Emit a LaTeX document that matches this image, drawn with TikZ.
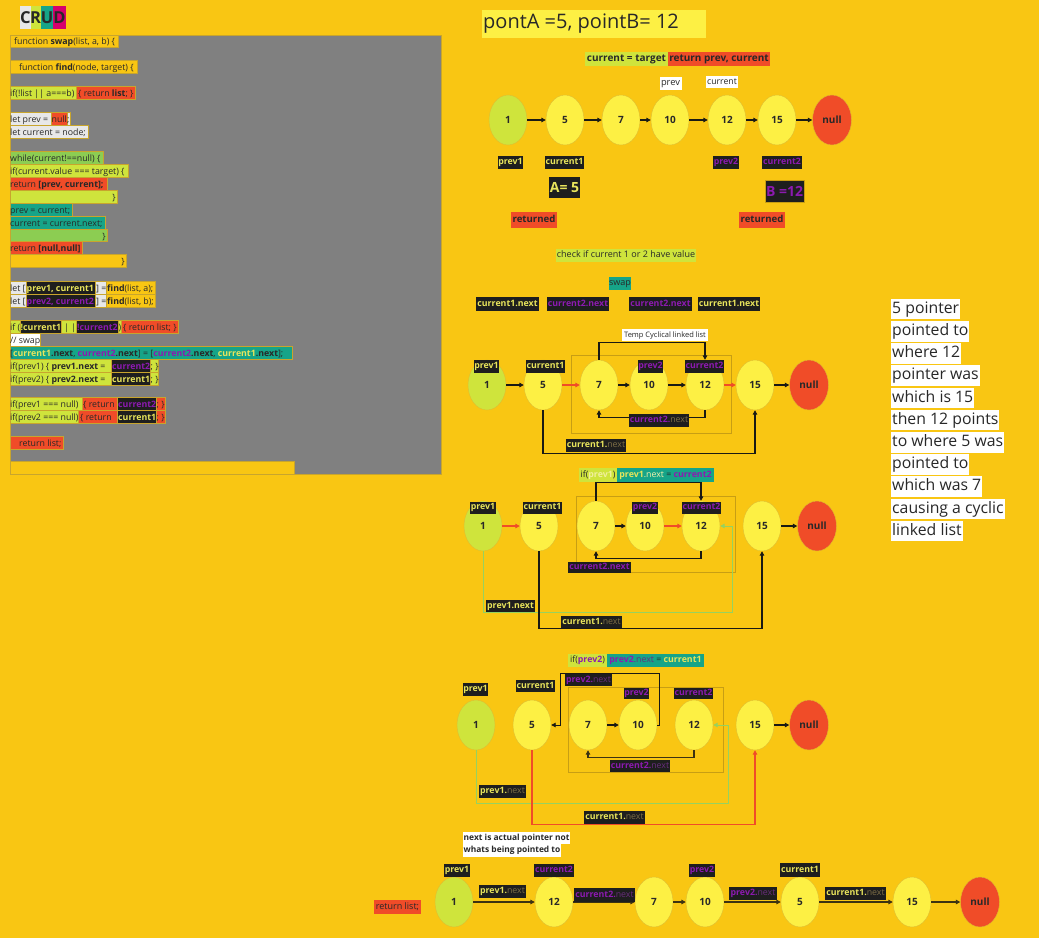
\documentclass[tikz,border=0pt]{standalone}
\usepackage{fontspec}
\setmainfont{Open Sans}
\usetikzlibrary{shapes.geometric,arrows.meta,calc}
\definecolor{bg}{RGB}{249,198,19}
\definecolor{nodey}{RGB}{253,240,68}
\definecolor{nodeline}{RGB}{222,190,50}
\definecolor{limec}{RGB}{207,228,60}
\definecolor{redc}{RGB}{240,76,40}
\definecolor{tealc}{RGB}{22,164,136}
\definecolor{greenc}{RGB}{140,205,82}
\definecolor{lblack}{RGB}{30,30,30}
\definecolor{lyel}{RGB}{232,228,92}
\definecolor{purp}{RGB}{140,26,176}
\definecolor{dimc}{RGB}{125,110,70}
\definecolor{dimp}{RGB}{105,45,125}
\definecolor{panel}{RGB}{128,128,128}
\definecolor{lgray}{RGB}{232,232,232}
\definecolor{magc}{RGB}{214,0,108}
\definecolor{rectc}{RGB}{200,158,20}
\definecolor{gpath}{RGB}{150,210,95}
\definecolor{ink}{RGB}{40,40,40}
\definecolor{segline}{RGB}{200,165,45}
\definecolor{arrowc}{RGB}{25,25,20}
\definecolor{botarr}{RGB}{60,50,18}
\newcommand\myfs[1]{\fontsize{#1}{#1}\selectfont}
\begin{document}
\begin{tikzpicture}[x=1pt,y=-1pt,
  cf/.style={fill=#1, draw=segline, line width=0.3pt},
  ct/.style={anchor=base west, inner sep=0pt, font=\myfs{8.8}, text=ink},
  ctb/.style={ct, font=\myfs{8.8}\bfseries},
  cte/.style={ct, anchor=base east},
  ll/.style={ellipse, minimum width=38pt, minimum height=50pt, inner sep=0pt, draw=nodeline, line width=0.4pt, fill=nodey, font=\myfs{10}\bfseries, text=ink},
  ll1/.style={ll, fill=limec},
  lln/.style={ll, fill=redc, minimum width=39pt},
  lb/.style={fill=lblack, text=lyel, inner sep=0pt, minimum height=13pt, text height=6.6pt, text depth=1.8pt, font=\myfs{8.8}\bfseries},
  lbp/.style={lb, text=purp},
  ar/.style={draw=arrowc, line width=1.1pt, -{Triangle[length=4.5pt,width=4.5pt]}},
  arr/.style={ar, draw=redc},
  arg/.style={ar, draw=gpath, line width=1pt},
  arb/.style={ar, draw=botarr, line width=1.5pt},
  rc/.style={draw=rectc, line width=0.8pt},
  rt/.style={anchor=west, fill=white, inner xsep=1pt, inner ysep=0pt, text height=14.5pt, text depth=6.2pt, font=\myfs{15.8}, text=ink}
]
\fill[bg] (0,0) rectangle (1039,938);
\useasboundingbox (0,0) rectangle (1039,938);

% ---------- CRUD ----------
\fill[lgray] (20,6) rectangle (30.6,29);
\fill[limec] (30.6,6) rectangle (40.7,29);
\fill[tealc] (40.7,6) rectangle (53.3,29);
\fill[magc] (53.3,6) rectangle (65.7,29);
\node[font=\myfs{16.5}\bfseries, text=ink, inner sep=0pt] (cC) at (25.5,17.5) {C};
\node[font=\myfs{16.5}\bfseries, text=ink, inner sep=0pt] (cR) at (35.6,17.5) {R};
\node[font=\myfs{16.5}\bfseries, text=ink, inner sep=0pt] (cU) at (47,17.5) {U};
\node[font=\myfs{16.5}\bfseries, text=ink, inner sep=0pt] (cD) at (59.5,17.5) {D};

% ---------- code panel ----------
\path[fill=panel, draw=segline, line width=0.8pt] (10,35) rectangle (441,474);

\path[cf=bg] (10,35) rectangle (118,47);
\node[ct] (k1) at (14,44) {function \textbf{swap}(list, a, b) \{};
\path[cf=bg] (10,60) rectangle (137,73);
\node[ct] (k2) at (19,70) {function \textbf{find}(node, target) \{};

\path[cf=limec] (10,86) rectangle (76,99);
\path[cf=redc] (76,86) rectangle (135,99);
\node[ct] (k3a) at (10,96) {if(!list || a===b)};
\node[ct] (k3b) at (78,96) {\{ return \textbf{list}; \}};

\path[cf=lgray] (10,112) rectangle (51,125);
\path[cf=redc] (51,112) rectangle (67,125);
\path[cf=lgray] (67,112) rectangle (70,125);
\node[ct] (k4a) at (10,122) {let prev =};
\node[ct] (k4b) at (51.5,122) {null};
\node[ct] (k4c) at (67,122) {;};
\path[cf=lgray] (10,125) rectangle (88,138);
\node[ct] (k5) at (10,135) {let current = node;};

\path[cf=greenc] (10,151) rectangle (103,164);
\node[ct] (k6) at (10,161) {while(current!==null) \{};
\path[cf=limec] (10,164) rectangle (128,177);
\node[ct] (k7) at (10,174) {if(current.value === target) \{};
\path[cf=redc] (10,177) rectangle (107,190);
\node[ct] (k8) at (10,187) {return \textbf{[prev, current];}};
\path[cf=limec] (10,190) rectangle (117,203);
\node[cte] (k9) at (116,200) {\}};
\path[cf=tealc] (10,203) rectangle (72,216);
\node[ct] (k10) at (10,213) {prev = current;};
\path[cf=tealc] (10,216) rectangle (105,229);
\node[ct] (k11) at (10,226) {current = current.next;};
\path[cf=greenc] (10,229) rectangle (107,241);
\node[cte] (k12) at (106,239) {\}};
\path[cf=redc] (10,241) rectangle (82,254);
\node[ct] (k13) at (10,251) {return \textbf{[null,null]}};
\path[cf=bg] (10,254) rectangle (126,267);
\node[cte] (k14) at (125,264) {\}};

\path[cf=lgray] (10,281) rectangle (26,294);
\path[cf=lblack] (26,281) rectangle (95,294);
\path[cf=lgray] (95,281) rectangle (106,294);
\path[cf=bg] (106,281) rectangle (155,294);
\node[ct] (k15a) at (10,291) {let [};
\node[ctb, text=lyel] (k15b) at (26.5,291) {prev1, current1};
\node[ct] (k15c) at (96,291) {] =};
\node[ct] (k15d) at (107,291) {\textbf{find}(list, a);};
\path[cf=lgray] (10,294) rectangle (26,307);
\path[cf=lblack] (26,294) rectangle (95,307);
\path[cf=lgray] (95,294) rectangle (106,307);
\path[cf=bg] (106,294) rectangle (155,307);
\node[ct] (k16a) at (10,304) {let [};
\node[ctb, text=purp] (k16b) at (26.5,304) {prev2, current2};
\node[ct] (k16c) at (96,304) {] =};
\node[ct] (k16d) at (107,304) {\textbf{find}(list, b);};

\path[cf=limec] (10,320) rectangle (20,333);
\path[cf=lblack] (20,320) rectangle (61,333);
\path[cf=limec] (61,320) rectangle (76,333);
\path[cf=lblack] (76,320) rectangle (118,333);
\path[cf=limec] (118,320) rectangle (121,333);
\path[cf=redc] (121,320) rectangle (178,333);
\node[ct] (k17a) at (10,330) {if (};
\node[ctb, text=lyel] (k17b) at (20.5,330) {\textcolor{limec}{!}current1};
\node[ct] (k17c) at (64,330) {| |};
\node[ctb, text=purp] (k17d) at (77,330) {!current2};
\node[ct] (k17e) at (118.5,330) {)};
\node[ct] (k17f) at (123,330) {\{ return list; \}};

\path[cf=white] (10,333) rectangle (40,346);
\node[ct] (k18) at (10,343) {// swap};
\path[cf=tealc] (10,346) rectangle (292,359);
\node[ct] (k19) at (10,356) {[\textbf{\textcolor{lyel}{current1}.next}, \textbf{\textcolor{purp}{current2}.next}] = [\textbf{\textcolor{purp}{current2}.next}, \textbf{\textcolor{lyel}{current1}.next}];};

\path[cf=limec] (10,359) rectangle (158,372);
\path[cf=lblack] (111,359) rectangle (150,372);
\node[ct] (k20a) at (10,369) {if(prev1) \{ \textbf{prev1.next} =};
\node[ctb, text=purp] (k20b) at (112,369) {current2};
\node[ct] (k20c) at (150.5,369) {; \}};
\path[cf=limec] (10,372) rectangle (158,385);
\path[cf=lblack] (111,372) rectangle (150,385);
\node[ct] (k21a) at (10,382) {if(prev2) \{ \textbf{prev2.next} =};
\node[ctb, text=lyel] (k21b) at (112,382) {current1};
\node[ct] (k21c) at (150.5,382) {; \}};

\path[cf=limec] (10,397) rectangle (82,410);
\path[cf=redc] (82,397) rectangle (165,410);
\path[cf=lblack] (117,397) rectangle (156,410);
\node[ct] (k22a) at (10,407) {if(prev1 === null)};
\node[ct] (k22b) at (83,407) {\{ return};
\node[ctb, text=purp] (k22c) at (118,407) {current2};
\node[ct] (k22d) at (156.5,407) {; \}};
\path[cf=limec] (10,410) rectangle (78,423);
\path[cf=redc] (78,410) rectangle (165,423);
\path[cf=lblack] (117,410) rectangle (156,423);
\node[ct] (k23a) at (10,420) {if(prev2 === null)};
\node[ct] (k23b) at (80,420) {\{ return};
\node[ctb, text=lyel] (k23c) at (118,420) {current1};
\node[ct] (k23d) at (156.5,420) {; \}};

\path[cf=redc] (10,436) rectangle (63,449);
\node[ct] (k24) at (19,446) {return list;};
\path[cf=bg] (10,461) rectangle (294,474);

% ---------- title ----------
\node[fill=nodey, minimum width=224pt, minimum height=28pt, inner sep=0pt] (titlebox) at (594,24) {};
\node[anchor=west, inner sep=0pt, font=\myfs{20}, text=ink] (title) at (483,24) {pontA =5, pointB= 12};

% ---------- section 1 ----------
\node[lb, fill=limec, text=ink, minimum width=83pt, minimum height=14pt, font=\myfs{10}\bfseries] (s1a) at (626.5,59) {current = target};
\node[lb, fill=redc, text=ink, minimum width=102pt, minimum height=14pt, font=\myfs{10}\bfseries] (s1b) at (719,59) {return prev, current};
\node[lb, fill=white, text=ink, minimum width=22pt, font=\myfs{9.3}] (wprev) at (670.5,83.5) {prev};
\node[lb, fill=white, text=ink, minimum width=32pt, minimum height=12pt, font=\myfs{8.7}] (wcur) at (722,82) {current};

\node[ll1] (a1) at (508,120) {1};
\node[ll] (a5) at (565,120) {5};
\node[ll] (a7) at (621,120) {7};
\node[ll] (a10) at (670,120) {10};
\node[ll] (a12) at (727,120) {12};
\node[ll] (a15) at (777,120) {15};
\node[lln] (anull) at (832,120) {null};
\draw[ar] (a1) -- (a5);
\draw[ar] (a5) -- (a7);
\draw[ar] (a7) -- (a10);
\draw[ar] (a10) -- (a12);
\draw[ar] (a12) -- (a15);
\draw[ar] (a15) -- (anull);

\node[lb, minimum width=25pt] (ap1) at (510.5,162.5) {prev1};
\node[lb, minimum width=39pt] (ac1) at (564.5,162.5) {current1};
\node[lbp, minimum width=26pt] (ap2) at (726,162.5) {prev2};
\node[lbp, minimum width=40pt] (ac2) at (782,162.5) {current2};
\node[lb, minimum width=31pt, minimum height=21pt, text height=10pt, text depth=0pt, font=\myfs{14}\bfseries] (aA) at (564.5,187.5) {A= 5};
\node[lbp, minimum width=39pt, minimum height=22pt, text height=10pt, text depth=0pt, font=\myfs{14}\bfseries, draw=rectc, line width=0.5pt] (aB) at (784.5,191) {B =12};
\node[lb, fill=redc, text=ink, minimum width=46pt, minimum height=16pt, font=\myfs{9.6}\bfseries] (ret1) at (534,220) {returned};
\node[lb, fill=redc, text=ink, minimum width=46pt, minimum height=16pt, font=\myfs{9.6}\bfseries] (ret2) at (762,220) {returned};

% ---------- section 2 ----------
\node[lb, fill=limec, text=ink, minimum width=140pt, font=\myfs{9}\mdseries] (chk) at (626,255.5) {check if current 1 or 2 have value};
\node[lb, fill=tealc, text=ink, minimum width=22pt, font=\myfs{9}\mdseries] (swp) at (620,283.5) {swap};
\node[lb, minimum width=63pt, minimum height=14pt] (n1) at (507.5,304) {current1.next};
\node[lbp, minimum width=62pt, minimum height=14pt] (n2) at (578,304) {current2.next};
\node[lbp, minimum width=63pt, minimum height=14pt] (n3) at (660.5,304) {current2.next};
\node[lb, minimum width=62pt, minimum height=14pt] (n4) at (729,304) {current1.next};
\node[lb, fill=white, text=ink, minimum width=86pt, minimum height=12pt, font=\myfs{7.5}\mdseries] (tmp) at (665,335) {Temp Cyclical linked list};
\draw[rc] (571,355) rectangle (731,433);

\node[ll1] (b1) at (487,385) {1};
\node[ll] (b5) at (543,385) {5};
\node[ll] (b7) at (599,385) {7};
\node[ll] (b10) at (649,385) {10};
\node[ll] (b12) at (705,385) {12};
\node[ll] (b15) at (755,385) {15};
\node[lln] (bnull) at (809,385) {null};
\draw[ar] (b1) -- (b5);
\draw[arr] (b5) -- (b7);
\draw[ar] (b7) -- (b10);
\draw[ar] (b10) -- (b12);
\draw[arr] (b12) -- (b15);
\draw[ar] (b15) -- (bnull);
\draw[ar] (b7.north) -- ++(0,-17.5) -| (b12.north);
\draw[ar] (b12.south) -- ++(0,7) -| (b7.south);
\draw[ar] (b5.south) -- ++(0,43) -| (b15.south);
\node[lb, minimum width=25pt] (bp1) at (486.5,366.5) {prev1};
\node[lb, minimum width=39pt] (bc1) at (545.5,366.5) {current1};
\node[lbp, minimum width=25pt] (bp2) at (650.5,366.5) {prev2};
\node[lbp, minimum width=39pt] (bc2) at (704.5,366.5) {current2};
\node[lbp, minimum width=60pt] (bn2) at (659,420.5) {current2.\textcolor{dimc}{\mdseries next}};
\node[lb, minimum width=60pt] (bn1) at (596,445.5) {current1.\textcolor{dimc}{\mdseries next}};

% ---------- section 3 ----------
\node[lb, fill=limec, text=ink, minimum width=38pt, minimum height=14pt, font=\myfs{8.8}\mdseries] (c3a) at (598,475) {if(\textbf{\textcolor{lyel!60!white}{prev1}})};
\node[lb, fill=tealc, text=ink, minimum width=97pt, minimum height=14pt, font=\myfs{8.8}\mdseries] (c3b) at (665.5,475) {\textbf{\textcolor{lyel}{prev1}}\textcolor{lyel!50!white}{.next} = \textbf{\textcolor{purp}{current2}}};
\draw[rc] (576,496) rectangle (735,572);

\node[ll1] (c1) at (483,526) {1};
\node[ll] (c5) at (539,526) {5};
\node[ll] (c7) at (596,526) {7};
\node[ll] (c10) at (645,526) {10};
\node[ll] (c12) at (701,526) {12};
\node[ll] (c15) at (762,526) {15};
\node[lln] (cnull) at (817,526) {null};
\draw[arr] (c1) -- (c5);
\draw[ar] (c7) -- (c10);
\draw[arr] (c10) -- (c12);
\draw[ar] (c15) -- (cnull);
\draw[ar] (c7.north) -- ++(0,-18.5) -| (c12.north);
\draw[ar] (c12.south) -- ++(0,7) -| (c7.south);
\draw[arg] (c1.south) |- ++(249,61) |- (c12.east);
\draw[ar] (c5.south) -- ++(0,77.5) -| (c15.south);
\node[lb, minimum width=26pt, minimum height=12pt] (cp1) at (483,507.5) {prev1};
\node[lb, minimum width=39pt, minimum height=12pt] (cc1) at (542.5,507.5) {current1};
\node[lbp, minimum width=26pt, minimum height=12pt] (cp2) at (645,507.5) {prev2};
\node[lbp, minimum width=39pt, minimum height=12pt] (cc2) at (701.5,507.5) {current2};
\node[lbp, minimum width=63pt, minimum height=11pt] (cn2) at (599.5,567.5) {current2.next};
\node[lb, minimum width=49pt, minimum height=12pt] (cn3) at (510.5,606) {prev1.next};
\node[lb, minimum width=61pt, minimum height=12pt] (cn1) at (591.5,622) {current1.\textcolor{dimc}{\mdseries next}};

% ---------- section 4 ----------
\node[lb, fill=limec, text=ink, minimum width=39pt, font=\myfs{8.8}\mdseries] (d4a) at (587.5,660.5) {if(\textbf{\textcolor{purp}{prev2}})};
\node[lb, fill=tealc, text=ink, minimum width=97pt, font=\myfs{8.8}\mdseries] (d4b) at (655.5,660.5) {\textbf{\textcolor{purp}{prev2}}\textcolor{dimp}{.next} = \textbf{\textcolor{lyel}{current1}}};
\draw[rc] (568,687) rectangle (723,772);

\node[ll1] (d1) at (476,725) {1};
\node[ll] (d5) at (532,725) {5};
\node[ll] (d7) at (588,725) {7};
\node[ll] (d10) at (638,725) {10};
\node[ll] (d12) at (694,725) {12};
\node[ll] (d15) at (755,725) {15};
\node[lln] (dnull) at (809,725) {null};
\draw[ar] (d7) -- (d10);
\draw[ar] (d15) -- (dnull);
\draw[ar, line width=0.9pt] (d10.east) -- ++(2,0) -- ++(0,-52) -| ($(d5.east)+(9,0)$) -- (d5.east);
\draw[ar, draw=botarr] (d12.south) -- ++(0,7) -| (d7.south);
\draw[arg] (d1.south) |- ++(252,53) |- (d12.east);
\draw[arr] (d5.south) -- ++(0,74) -| (d15.south);
\node[lb, minimum width=25pt] (dp1) at (475.5,689.5) {prev1};
\node[lb, minimum width=39pt, minimum height=12pt] (dc1) at (535.5,686) {current1};
\node[lbp, minimum width=25pt, minimum height=11pt] (dp2) at (636.5,693.5) {prev2};
\node[lbp, minimum width=39pt, minimum height=11pt] (dc2) at (693.5,693.5) {current2};
\node[lbp, minimum width=47pt, minimum height=12pt] (dn4) at (588.5,680) {prev2.\textcolor{dimp}{\mdseries next}};
\node[lbp, minimum width=60pt, minimum height=12pt] (dn2) at (640,766) {current2.\textcolor{dimp}{\mdseries next}};
\node[lb, minimum width=47pt] (dn3) at (502.5,791.5) {prev1.\textcolor{dimc}{\mdseries next}};
\node[lb, minimum width=61pt] (dn1) at (614.5,817.5) {current1.\textcolor{dimc}{\mdseries next}};

% ---------- note ----------
\node[anchor=west, fill=white, inner xsep=0.5pt, inner ysep=0pt, minimum height=12.5pt, text height=6.6pt, text depth=1.8pt, font=\myfs{8.4}\bfseries, text=ink] (note1) at (463,838) {next is actual pointer not};
\node[anchor=west, fill=white, inner xsep=0.5pt, inner ysep=0pt, minimum height=12.5pt, text height=6.6pt, text depth=1.8pt, font=\myfs{8.4}\bfseries, text=ink] (note2) at (463,850.5) {whats being pointed to};

% ---------- section 5 ----------
\node[lb, fill=redc, text=ink, minimum width=47pt, minimum height=14pt, font=\myfs{9}\mdseries] (retl) at (397.5,907) {return list;};
\node[ll1] (e1) at (454,902) {1};
\node[ll] (e12) at (554,902) {12};
\node[ll] (e7) at (654,902) {7};
\node[ll] (e10) at (705,902) {10};
\node[ll] (e5) at (800,902) {5};
\node[ll] (e15) at (912,902) {15};
\node[lln] (enull) at (980,902) {null};
\draw[arb] (e1) -- (e12);
\draw[arb] (e12) -- (e7);
\draw[arb] (e7) -- (e10);
\draw[arb] (e10) -- (e5);
\draw[arb] (e5) -- (e15);
\draw[arb] (e15) -- (enull);
\node[lb, minimum width=26pt] (ep1) at (457,870.5) {prev1};
\node[lbp, minimum width=40pt] (ec2) at (554,870.5) {current2};
\node[lbp, minimum width=26pt] (ep2) at (702,870.5) {prev2};
\node[lb, minimum width=40pt, minimum height=14pt] (ec1) at (800,870) {current1};
\node[lb, minimum width=47pt] (en1) at (502.5,891.5) {prev1.\textcolor{dimc}{\mdseries next}};
\node[lbp, minimum width=61pt, minimum height=14pt] (en2) at (604.5,895) {current2.\textcolor{dimp}{\mdseries next}};
\node[lbp, minimum width=48pt] (en3) at (753,893.5) {prev2.\textcolor{dimp}{\mdseries next}};
\node[lb, minimum width=61pt] (en4) at (855.5,893.5) {current1.\textcolor{dimc}{\mdseries next}};

% ---------- right text ----------
\node[rt] (r1) at (891,309.1) {5 pointer};
\node[rt] (r2) at (891,331.3) {pointed to};
\node[rt] (r3) at (891,353.5) {where 12};
\node[rt] (r4) at (891,375.7) {pointer was};
\node[rt] (r5) at (891,397.9) {which is 15};
\node[rt] (r6) at (891,420.1) {then 12 points};
\node[rt] (r7) at (891,442.3) {to where 5 was};
\node[rt] (r8) at (891,464.5) {pointed to};
\node[rt] (r9) at (891,486.7) {which was 7};
\node[rt] (r10) at (891,508.9) {causing a cyclic};
\node[rt] (r11) at (891,531.1) {linked list};
\end{tikzpicture}
\end{document}
